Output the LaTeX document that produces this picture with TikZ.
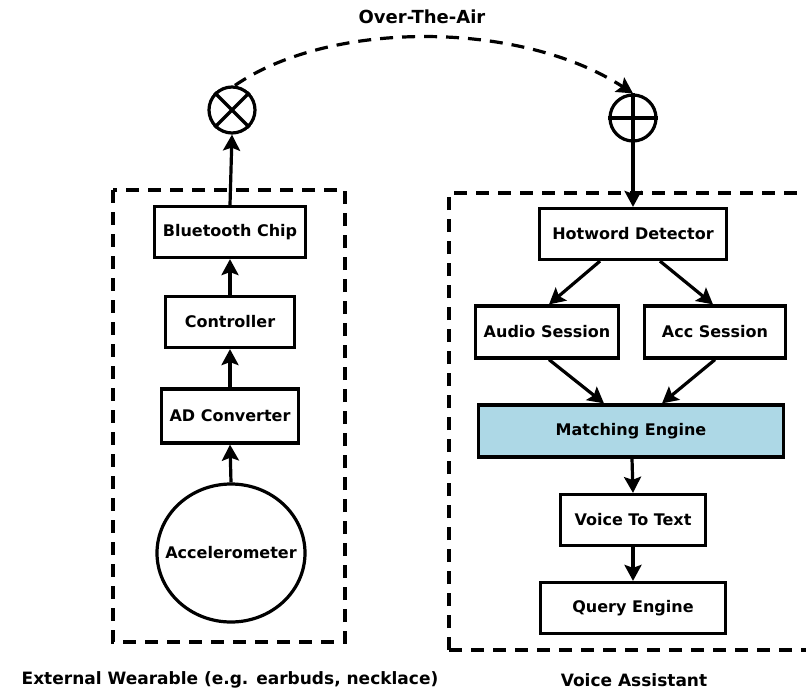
\documentclass[tikz,border=0pt]{standalone}
\usepackage{fontspec}
\setmainfont{DejaVu Sans}
\usetikzlibrary{shapes.geometric,arrows.meta}
\definecolor{matchblue}{RGB}{173,216,230}
\begin{document}
\begin{tikzpicture}[x=1pt,y=-1pt,
  font=\bfseries\fontsize{16}{19}\selectfont,
  block/.style={draw,line width=3.2pt,minimum height=51pt,inner sep=0pt},
  ring/.style={draw,line width=3.2pt,circle,minimum size=46pt,inner sep=0pt},
  conn/.style={line width=3.2pt,-{Stealth[length=16pt,width=17pt,inset=3pt]}},
  frame/.style={line width=3.2pt,dash pattern=on 13pt off 9pt},
  lbl/.style={font=\bfseries\fontsize{17}{20}\selectfont}]
\useasboundingbox (0,0) rectangle (806,691);

% dashed enclosures
\draw[frame] (113,190) rectangle (345,642);
\draw[frame] (449,650) -- (449,193) -- (812,193);
\draw[frame] (449,650) -- (812,650);

% wearable side
\node[block,minimum width=151pt] (bt) at (230,232) {Bluetooth Chip};
\node[block,minimum width=129pt] (ctrl) at (230,322) {Controller};
\node[block,minimum width=137pt,minimum height=54pt] (adc) at (230,416) {AD Converter};
\node[draw,line width=3.2pt,ellipse,minimum width=148pt,minimum height=138pt,inner sep=0pt] (acc) at (231,553) {};
\node (acctext) at (acc.center) {Accelerometer};
\node[ring] (mix) at (232,110) {};
\draw[line width=3.2pt] (mix.north west) -- (mix.south east) (mix.south west) -- (mix.north east);

% assistant side
\node[ring] (add) at (633,118) {};
\draw[line width=3.2pt] (add.west) -- (add.east) (add.north) -- (add.south);
\node[block,minimum width=187pt] (hot) at (633,234) {Hotword Detector};
\node[block,minimum width=143pt,minimum height=52pt] (aud) at (547,332) {Audio Session};
\node[block,minimum width=141pt,minimum height=52pt] (accs) at (715,332) {Acc Session};
\node[block,minimum width=305pt,minimum height=52pt,fill=matchblue] (match) at (631,431) {Matching Engine};
\node[block,minimum width=145pt] (v2t) at (633,520) {Voice To Text};
\node[block,minimum width=185pt] (query) at (633,608) {Query Engine};

% labels
\node[lbl,font=\bfseries\fontsize{18}{21}\selectfont] (ota) at (422,17) {Over-The-Air};
\node[lbl] (wlab) at (230,680) {External Wearable (e.g. earbuds, necklace)};
\node[lbl] (alab) at (634,680) {Voice Assistant};

% connectors
\draw[conn] (acc.north) -- (adc.south);
\draw[conn] (adc.north) -- (ctrl.south);
\draw[conn] (ctrl.north) -- (bt.south);
\draw[conn] (bt.north) -- (mix.south);
\draw[conn,dash pattern=on 13pt off 9pt] ([xshift=3pt]mix.north) .. controls (330,20) and (520,20) .. (add.north);
\draw[conn] (add.south) -- (hot.north);
\draw[conn] ([xshift=-33pt]hot.south) -- ([xshift=2pt]aud.north);
\draw[conn] ([xshift=27pt]hot.south) -- ([xshift=-2pt]accs.north);
\draw[conn] ([xshift=2pt]aud.south) -- ([xshift=-27pt]match.north);
\draw[conn] (accs.south) -- ([xshift=31pt]match.north);
\draw[conn] ([xshift=1pt]match.south) -- (v2t.north);
\draw[conn] (v2t.south) -- (query.north);
\end{tikzpicture}
\end{document}
